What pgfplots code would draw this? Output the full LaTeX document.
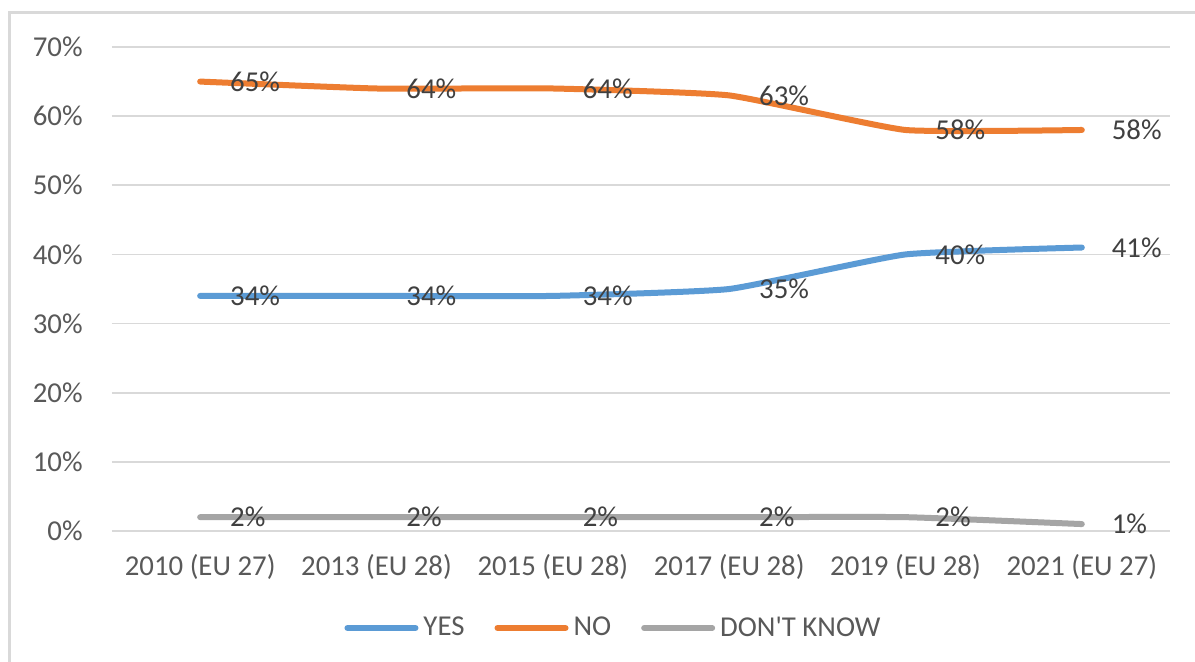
\documentclass[border=0pt]{standalone}
\usepackage{pgfplots}
\pgfplotsset{compat=1.18}
\usepackage{fontspec}
\setmainfont{Carlito}[Ligatures=TeXOff]
\definecolor{cyes}{HTML}{5B9BD5}
\definecolor{cno}{HTML}{ED7D31}
\definecolor{cdk}{HTML}{A5A5A5}
\definecolor{cgrid}{HTML}{D9D9D9}
\definecolor{ctext}{HTML}{595959}
\definecolor{clab}{HTML}{404040}
\begin{document}
\begin{tikzpicture}
\useasboundingbox (-56pt,-65.5pt) rectangle (541.5pt,265.5pt);
\fill[white] (-56pt,-65.5pt) rectangle (541.5pt,265.5pt);
\draw[cgrid, line width=1.5pt] (-51pt,-66pt) -- (-51pt,259pt) -- (542pt,259pt);
\begin{axis}[
  scale only axis,
  width=529pt, height=242pt,
  xmin=-0.5, xmax=5.5, ymin=0, ymax=70,
  xtick={0,1,2,3,4,5},
  xticklabels={2010 (EU 27),2013 (EU 28),2015 (EU 28),2017 (EU 28),2019 (EU 28),2021 (EU 27)},
  ytick={0,10,20,30,40,50,60,70},
  yticklabels={0\%,10\%,20\%,30\%,40\%,50\%,60\%,70\%},
  /pgf/number format/assume math mode=true,
  axis line style={draw=none},
  major tick style={draw=none},
  ymajorgrids,
  grid style={cgrid, line width=0.9pt},
  font=\fontsize{14.4}{17}\selectfont,
  ticklabel style={text=ctext},
  yticklabel style={anchor=east, inner sep=0pt, xshift=-14.5pt},
  xticklabel style={anchor=center, inner sep=0pt, yshift=-18pt},
  clip=false,
  legend columns=3,
  legend style={at={(0.473,0)}, anchor=center, yshift=-48.5pt, draw=none, fill=none,
    font=\fontsize{14.4}{17}\selectfont, text=ctext,
    nodes={inner sep=0pt},
    /tikz/every odd column/.append style={column sep=2.5pt},
    /tikz/every even column/.append style={column sep=15pt}},
  legend image code/.code={\draw[#1, line cap=round] (0pt,0pt) -- (34pt,0pt);},
  every axis plot/.append style={line width=3pt, line cap=round, line join=round, smooth, tension=0.25},
  nodes near coords={\pgfmathprintnumber{\pgfplotspointmeta}\%},
  point meta=y,
  every node near coord/.append style={anchor=west, xshift=13.5pt, inner sep=0pt, text=clab, font=\fontsize{14.4}{17}\selectfont},
]
\addplot[cyes] coordinates {(0,34) (1,34) (2,34) (3,35) (4,40) (5,41)};
\addlegendentry{YES}
\addplot[cno] coordinates {(0,65) (1,64) (2,64) (3,63) (4,58) (5,58)};
\addlegendentry{NO}
\addplot[cdk] coordinates {(0,2) (1,2) (2,2) (3,2) (4,2) (5,1)};
\addlegendentry{DON'T KNOW}
\end{axis}
\end{tikzpicture}
\end{document}
